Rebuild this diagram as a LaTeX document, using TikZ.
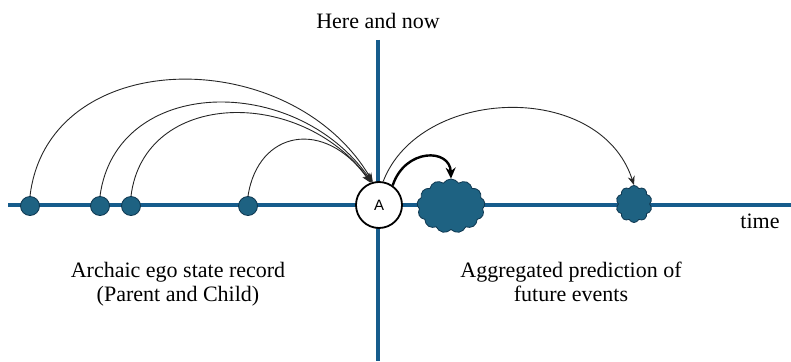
\documentclass[tikz,border=0pt]{standalone}
\usepackage{fontspec}
\setmainfont{Liberation Serif}
\newfontfamily\sansA{Liberation Sans}
\usetikzlibrary{shapes.symbols,arrows.meta}
\definecolor{axisblue}{RGB}{22,92,140}
\definecolor{dotfill}{RGB}{30,98,130}
\definecolor{dotline}{RGB}{14,55,80}
\tikzset{
  axis/.style={draw=axisblue, line width=3.2pt},
  pastdot/.style={circle, fill=dotfill, draw=dotline, line width=0.8pt, minimum size=19pt, inner sep=0pt},
  nowcircle/.style={circle, fill=white, draw=black, line width=1.8pt, minimum size=46pt, inner sep=0pt, font=\sansA\fontsize{15}{15}\selectfont},
  futcloud/.style={cloud, fill=dotfill, draw=dotline, line width=0.8pt, inner sep=0pt},
  arc/.style={draw=black!85, line width=0.9pt, -{Stealth[length=9pt,width=7pt]}},
  thickarc/.style={draw=black, line width=2.4pt, -{Stealth[length=11pt,width=10pt]}},
  lbl/.style={font=\fontsize{22}{24}\selectfont, align=center, inner sep=0pt}
}
\begin{document}
\begin{tikzpicture}[x=1pt,y=-1pt]
\useasboundingbox (0,0) rectangle (791,361);
\coordinate (hl) at (8,205);
\coordinate (hr) at (791,205);
\coordinate (vt) at (378,40);
\coordinate (vb) at (378,361);
\draw[axis] (hl) -- (hr);
\draw[axis] (vt) -- (vb);
\node[pastdot] (d1) at (30,206) {};
\node[pastdot] (d2) at (100,206) {};
\node[pastdot] (d3) at (131,206) {};
\node[pastdot] (d4) at (248,206) {};
\node[nowcircle] (A) at (379,205) {A};
\node[futcloud, cloud puffs=13, cloud puff arc=115, minimum width=68pt, minimum height=54pt] (c1) at (451,206) {};
\node[futcloud, cloud puffs=10, cloud puff arc=130, minimum width=36pt, minimum height=37pt] (c2) at (634,204) {};
\node[lbl, anchor=base] (title) at (378,29) {Here and now};
\node[lbl, anchor=base] (time) at (760,228) {time};
\node[lbl, anchor=base] (past) at (178,301) {Archaic ego state record\\(Parent and Child)};
\node[lbl, anchor=base] (fut) at (571,301) {Aggregated prediction of\\future events};
\draw[arc] (d1.north) .. controls (48,45) and (290,42) .. (A.105);
\draw[arc] (d2.north) .. controls (116,76) and (295,72) .. (A.107);
\draw[arc] (d3.north) .. controls (144,90) and (300,86) .. (A.109);
\draw[arc] (d4.north) .. controls (258,130) and (325,118) .. (A.111);
\draw[arc] (A.80) .. controls (420,86) and (600,80) .. (c2.north);
\draw[thickarc] (A.55) .. controls (405,148) and (450,148) .. (c1.north);
\end{tikzpicture}
\end{document}
